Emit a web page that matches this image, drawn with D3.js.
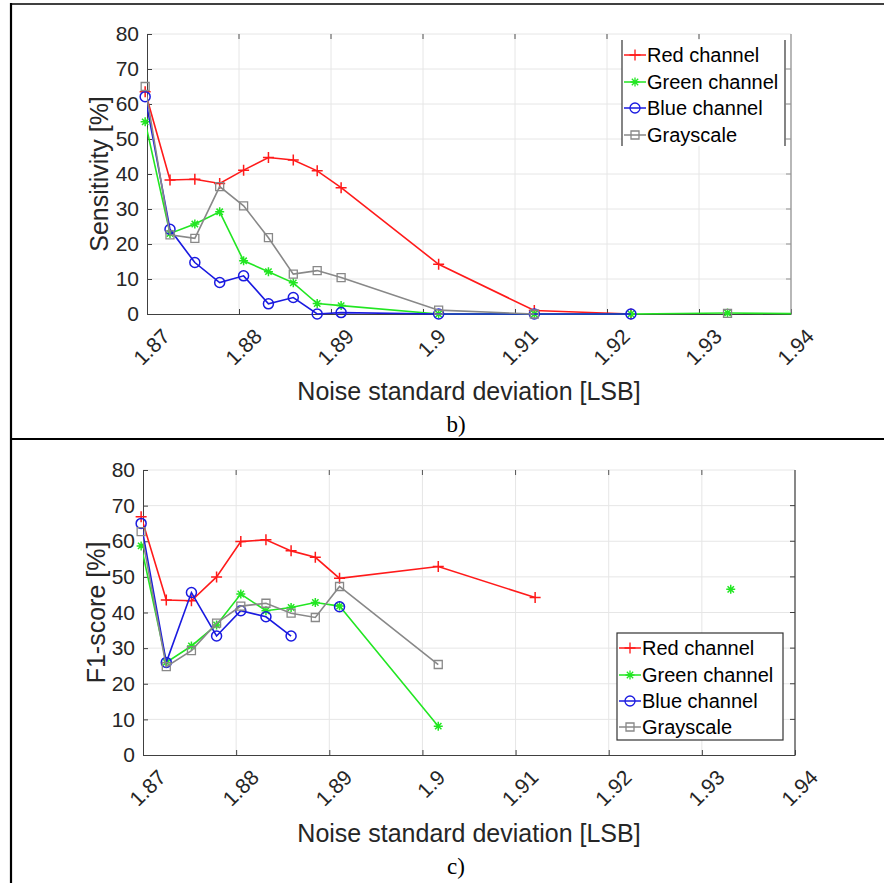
<!DOCTYPE html>
<html><head><meta charset="utf-8">
<script src="https://cdn.jsdelivr.net/npm/d3@7"></script>
<style>body{margin:0;background:#fff}svg{display:block}</style>
</head><body>
<script>
// ---- data ----
const noiseStd = [1.8698,1.8725,1.8752,1.8779,1.8805,1.8832,1.8859,1.8885,1.8911,1.9017,1.9121,1.9226,1.9331,1.9436];
const sensRed   = [63.5,38.3,38.5,37.3,41.1,44.7,44.0,40.9,36.1,14.2,1.0,0,null,null];
const sensGreen = [54.9,23.0,25.7,29.2,15.2,12.1,8.9,3.0,2.4,0,0,0,0.3,0];
const sensBlue  = [62.1,24.2,14.7,9.0,10.9,2.9,4.7,0,0.4,0,0,0,null,null];
const sensGray  = [65.0,22.6,21.6,36.4,30.9,21.8,11.4,12.4,10.4,1.1,0,null,0.2,null];
const f1Red   = [66.9,43.5,43.3,50.0,59.9,60.4,57.3,55.5,49.6,52.9,44.2,null,null,null];
const f1Green = [58.7,26.0,30.6,36.5,45.2,40.5,41.4,42.8,41.8,8.1,null,null,46.5,null];
const f1Blue  = [65.0,26.0,45.6,33.4,40.5,38.8,33.4,null,41.6,null,null,null,null,null];
const f1Gray  = [62.7,24.8,29.3,37.0,41.8,42.6,39.8,38.6,47.3,25.4,null,null,null,null];
const seriesNames = ["Red channel","Green channel","Blue channel","Grayscale"];
const xTicks = [1.87,1.88,1.89,1.9,1.91,1.92,1.93,1.94];
const xTickLabels = ["1.87","1.88","1.89","1.9","1.91","1.92","1.93","1.94"];
const yTicks = [0,10,20,30,40,50,60,70,80];
const xLabel = "Noise standard deviation [LSB]";
const yLabelTop = "Sensitivity [%]";
const yLabelBottom = "F1-score [%]";

// ---- styles ----
const colors = ["#ff1a1a","#22e622","#1a1ae0","#888888"];
const markers = ["plus","star","circle","square"];
const W = 884, H = 883;
const svg = d3.select("body").append("svg").attr("width",W).attr("height",H);
const FONT = "'Liberation Sans', Arial, Helvetica, sans-serif";

function markerPath(type, cx, cy){
  if(type==="plus") return `M${cx-5.5},${cy}H${cx+5.5}M${cx},${cy-5.5}V${cy+5.5}`;
  if(type==="star"){ const r=4.5, d=r*0.707;
    return `M${cx-r},${cy}H${cx+r}M${cx},${cy-r}V${cy+r}M${cx-d},${cy-d}L${cx+d},${cy+d}M${cx-d},${cy+d}L${cx+d},${cy-d}`; }
  if(type==="circle") return `M${cx+5},${cy}A5,5 0 1,1 ${cx-5},${cy}A5,5 0 1,1 ${cx+5},${cy}`;
  if(type==="square") return `M${cx-4},${cy-4}H${cx+4}V${cy+4}H${cx-4}Z`;
}

function panel(cfg){
  const {left,right,top,bottom,series,yLabel,xLabelY,tagY,tag,clipId} = cfg;
  const x = d3.scaleLinear().domain([1.87,1.94]).range([left,right]);
  const y = d3.scaleLinear().domain([0,80]).range([bottom,top]);
  const g = svg.append("g");
  // grid
  g.append("g").selectAll("line").data(xTicks.slice(1)).join("line")
    .attr("x1",d=>x(d)).attr("x2",d=>x(d)).attr("y1",top).attr("y2",bottom)
    .attr("stroke","#e6e6e6").attr("stroke-width",1);
  g.append("g").selectAll("line").data(yTicks.slice(1)).join("line")
    .attr("x1",left).attr("x2",right).attr("y1",d=>y(d)).attr("y2",d=>y(d))
    .attr("stroke","#e6e6e6").attr("stroke-width",1);
  // axes
  const xa = g.append("g").attr("transform",`translate(0,${bottom})`)
    .call(d3.axisBottom(x).tickValues(xTicks).tickFormat((d,i)=>xTickLabels[i]).tickSize(-5).tickSizeOuter(0));
  xa.select(".domain").attr("stroke","#404040");
  xa.selectAll(".tick line").attr("stroke","#404040");
  xa.selectAll(".tick text").attr("x",0).attr("y",0).attr("dy","0.72em")
    .attr("text-anchor","end").attr("transform","translate(13,13) rotate(-45)")
    .attr("font-size",21).attr("font-family",FONT).attr("fill","#262626");
  const ya = g.append("g").attr("transform",`translate(${left},0)`)
    .call(d3.axisLeft(y).tickValues(yTicks).tickSize(-5).tickPadding(8).tickSizeOuter(0));
  ya.select(".domain").attr("stroke","#404040");
  ya.selectAll(".tick line").attr("stroke","#404040");
  ya.selectAll(".tick text").attr("font-size",21).attr("font-family",FONT).attr("fill","#262626");
  // top ticks and right axis
  g.append("g").selectAll("line").data(xTicks.slice(1,-1)).join("line")
    .attr("x1",d=>x(d)).attr("x2",d=>x(d)).attr("y1",top).attr("y2",top+5)
    .attr("stroke","#555");
  g.append("line").attr("x1",right).attr("x2",right).attr("y1",top).attr("y2",bottom)
    .attr("stroke",cfg.rightColor).attr("stroke-width",1.2);
  g.append("g").selectAll("line").data(yTicks.slice(1,-1)).join("line")
    .attr("x1",right-5).attr("x2",right).attr("y1",d=>y(d)).attr("y2",d=>y(d))
    .attr("stroke",cfg.rightColor);
  // clip
  svg.append("clipPath").attr("id",clipId).append("rect")
    .attr("x",left).attr("y",top-8).attr("width",right-left).attr("height",bottom-top+16);
  const line = d3.line().defined(d=>d[1]!==null).x(d=>x(d[0])).y(d=>y(d[1]));
  series.forEach((vals,k)=>{
    const pts = noiseStd.map((xv,i)=>[xv,vals[i]]);
    g.append("path").attr("d",line(pts)).attr("fill","none").attr("stroke",colors[k])
      .attr("stroke-width",1.6).attr("clip-path",`url(#${clipId})`);
    g.append("g").selectAll("path").data(pts.filter(p=>p[1]!==null && p[0]<=1.94)).join("path")
      .attr("d",p=>markerPath(markers[k],x(p[0]),y(p[1]))).attr("fill","none")
      .attr("stroke",colors[k]).attr("stroke-width",markers[k]==="square"?1.3:1.5);
  });
  // labels
  g.append("text").attr("x",(left+right)/2).attr("y",xLabelY).attr("text-anchor","middle")
    .attr("font-size",25).attr("font-family",FONT).attr("fill","#262626").text(xLabel);
  g.append("text").attr("transform",`translate(${cfg.yLabelX},${(top+bottom)/2}) rotate(-90)`)
    .attr("text-anchor","middle").attr("font-size",25).attr("font-family",FONT).attr("fill","#262626").text(yLabel);
  g.append("text").attr("x",456).attr("y",tagY).attr("text-anchor","middle")
    .attr("font-size",23).attr("font-family","'Liberation Serif','Times New Roman',serif").attr("fill","#000").text(tag);
  // legend
  const L = cfg.legend;
  const lg = g.append("g");
  if(L.box){
    lg.append("rect").attr("x",L.x0).attr("y",L.y0).attr("width",L.x1-L.x0).attr("height",L.y1-L.y0)
      .attr("fill","#fff").attr("stroke","#333").attr("stroke-width",1.2);
  } else {
    lg.append("rect").attr("x",L.x0).attr("y",L.y0).attr("width",L.x1-L.x0).attr("height",L.y1-L.y0).attr("fill","#fff");
    lg.append("line").attr("x1",L.x0).attr("x2",L.x0).attr("y1",L.y0).attr("y2",L.y1).attr("stroke","#333").attr("stroke-width",1.2);
    lg.append("line").attr("x1",L.x1).attr("x2",L.x1).attr("y1",L.y0).attr("y2",L.y1).attr("stroke","#333").attr("stroke-width",1.2);
  }
  seriesNames.forEach((name,k)=>{
    const cy = L.rows[k];
    lg.append("line").attr("x1",L.x0+2).attr("x2",L.x0+24).attr("y1",cy).attr("y2",cy)
      .attr("stroke",colors[k]).attr("stroke-width",1.5);
    lg.append("path").attr("d",markerPath(markers[k],L.x0+13,cy)).attr("fill","none")
      .attr("stroke",colors[k]).attr("stroke-width",1.3);
    lg.append("text").attr("x",L.x0+25).attr("y",cy).attr("dy","0.36em")
      .attr("font-size",20).attr("font-family",FONT).attr("fill","#000").text(name);
  });
}

// frame
svg.append("line").attr("x1",10).attr("x2",W).attr("y1",4).attr("y2",4).attr("stroke","#000").attr("stroke-width",1.5);
svg.append("line").attr("x1",11).attr("x2",11).attr("y1",3).attr("y2",H).attr("stroke","#000").attr("stroke-width",2.2);
svg.append("line").attr("x1",10).attr("x2",W).attr("y1",439).attr("y2",439).attr("stroke","#000").attr("stroke-width",2.2);

panel({left:147,right:791,top:34,bottom:314,series:[sensRed,sensGreen,sensBlue,sensGray],
  yLabel:yLabelTop,yLabelX:108,xLabelY:400,tagY:432,tag:"b)",clipId:"c1",rightColor:"#909090",
  legend:{box:false,x0:622,x1:785,y0:40,y1:146,rows:[55,82,108,135]}});
panel({left:143,right:795,top:470,bottom:755,series:[f1Red,f1Green,f1Blue,f1Gray],
  yLabel:yLabelBottom,yLabelX:105,xLabelY:842,tagY:874,tag:"c)",clipId:"c2",rightColor:"#404040",
  legend:{box:true,x0:617,x1:783,y0:633,y1:740,rows:[648,675,701,727]}});
</script>
</body></html>
